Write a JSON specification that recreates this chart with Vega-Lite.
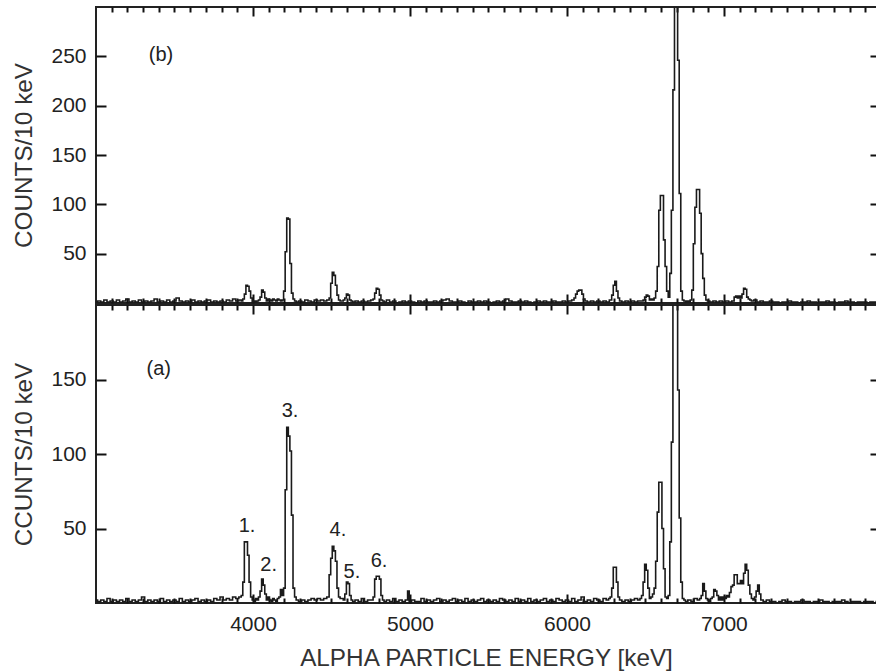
{
"$schema":"https://vega.github.io/schema/vega-lite/v6.json",
"padding":{"left":11,"top":5,"right":0,"bottom":0},
"spacing":-5,
"config":{"view":{"stroke":"#222","strokeWidth":2},
"axis":{"domain":false,"grid":false,"tickColor":"#111","tickWidth":2,"labelFont":"Liberation Sans","labelFontSize":21,"labelColor":"#222","titleFont":"Liberation Sans","titleFontSize":24.3,"titleFontWeight":"normal","titleColor":"#333"}},
"datasets":{
"b":[{"energy":3000,"counts":1},{"energy":3020,"counts":2},{"energy":3040,"counts":1},{"energy":3060,"counts":3},{"energy":3080,"counts":1},{"energy":3100,"counts":2},{"energy":3120,"counts":1},{"energy":3140,"counts":3},{"energy":3160,"counts":1},{"energy":3180,"counts":2},{"energy":3200,"counts":4},{"energy":3220,"counts":1},{"energy":3240,"counts":2},{"energy":3260,"counts":1},{"energy":3280,"counts":3},{"energy":3300,"counts":1},{"energy":3320,"counts":2},{"energy":3340,"counts":1},{"energy":3360,"counts":2},{"energy":3380,"counts":4},{"energy":3400,"counts":1},{"energy":3420,"counts":2},{"energy":3440,"counts":1},{"energy":3460,"counts":3},{"energy":3480,"counts":1},{"energy":3500,"counts":2},{"energy":3520,"counts":5},{"energy":3540,"counts":2},{"energy":3560,"counts":1},{"energy":3580,"counts":2},{"energy":3600,"counts":1},{"energy":3620,"counts":3},{"energy":3640,"counts":1},{"energy":3660,"counts":2},{"energy":3680,"counts":1},{"energy":3700,"counts":2},{"energy":3720,"counts":3},{"energy":3740,"counts":1},{"energy":3760,"counts":2},{"energy":3780,"counts":1},{"energy":3800,"counts":2},{"energy":3820,"counts":1},{"energy":3840,"counts":3},{"energy":3860,"counts":2},{"energy":3880,"counts":4},{"energy":3900,"counts":2},{"energy":3920,"counts":3},{"energy":3930,"counts":2},{"energy":3940,"counts":4},{"energy":3950,"counts":9},{"energy":3960,"counts":18},{"energy":3970,"counts":17},{"energy":3980,"counts":12},{"energy":3990,"counts":5},{"energy":4000,"counts":1},{"energy":4010,"counts":2},{"energy":4020,"counts":1},{"energy":4030,"counts":2},{"energy":4040,"counts":3},{"energy":4050,"counts":6},{"energy":4060,"counts":13},{"energy":4070,"counts":11},{"energy":4080,"counts":5},{"energy":4090,"counts":2},{"energy":4100,"counts":4},{"energy":4110,"counts":3},{"energy":4120,"counts":2},{"energy":4130,"counts":4},{"energy":4140,"counts":3},{"energy":4150,"counts":2},{"energy":4160,"counts":4},{"energy":4170,"counts":3},{"energy":4180,"counts":2},{"energy":4190,"counts":3},{"energy":4200,"counts":12},{"energy":4210,"counts":52},{"energy":4220,"counts":86},{"energy":4230,"counts":85},{"energy":4240,"counts":40},{"energy":4250,"counts":10},{"energy":4260,"counts":4},{"energy":4270,"counts":2},{"energy":4280,"counts":1},{"energy":4300,"counts":2},{"energy":4320,"counts":1},{"energy":4340,"counts":3},{"energy":4360,"counts":2},{"energy":4380,"counts":1},{"energy":4400,"counts":3},{"energy":4420,"counts":2},{"energy":4440,"counts":3},{"energy":4460,"counts":2},{"energy":4480,"counts":3},{"energy":4490,"counts":5},{"energy":4500,"counts":20},{"energy":4510,"counts":31},{"energy":4520,"counts":28},{"energy":4530,"counts":18},{"energy":4540,"counts":8},{"energy":4550,"counts":3},{"energy":4560,"counts":2},{"energy":4570,"counts":2},{"energy":4580,"counts":3},{"energy":4590,"counts":5},{"energy":4600,"counts":9},{"energy":4610,"counts":8},{"energy":4620,"counts":3},{"energy":4630,"counts":2},{"energy":4640,"counts":1},{"energy":4660,"counts":2},{"energy":4680,"counts":1},{"energy":4700,"counts":2},{"energy":4720,"counts":1},{"energy":4740,"counts":2},{"energy":4760,"counts":3},{"energy":4770,"counts":4},{"energy":4780,"counts":10},{"energy":4790,"counts":15},{"energy":4800,"counts":14},{"energy":4810,"counts":8},{"energy":4820,"counts":3},{"energy":4830,"counts":2},{"energy":4840,"counts":1},{"energy":4860,"counts":3},{"energy":4880,"counts":1},{"energy":4900,"counts":2},{"energy":4920,"counts":0},{"energy":4940,"counts":1},{"energy":4960,"counts":2},{"energy":4980,"counts":1},{"energy":5000,"counts":2},{"energy":5020,"counts":1},{"energy":5040,"counts":0},{"energy":5060,"counts":2},{"energy":5080,"counts":1},{"energy":5100,"counts":2},{"energy":5120,"counts":1},{"energy":5140,"counts":1},{"energy":5160,"counts":2},{"energy":5180,"counts":1},{"energy":5200,"counts":2},{"energy":5220,"counts":3},{"energy":5240,"counts":4},{"energy":5260,"counts":2},{"energy":5280,"counts":1},{"energy":5300,"counts":1},{"energy":5320,"counts":2},{"energy":5340,"counts":1},{"energy":5360,"counts":0},{"energy":5380,"counts":2},{"energy":5400,"counts":1},{"energy":5420,"counts":1},{"energy":5440,"counts":2},{"energy":5460,"counts":1},{"energy":5480,"counts":2},{"energy":5500,"counts":1},{"energy":5520,"counts":0},{"energy":5540,"counts":1},{"energy":5560,"counts":2},{"energy":5580,"counts":1},{"energy":5600,"counts":2},{"energy":5620,"counts":4},{"energy":5640,"counts":2},{"energy":5660,"counts":1},{"energy":5680,"counts":1},{"energy":5700,"counts":2},{"energy":5720,"counts":1},{"energy":5740,"counts":2},{"energy":5760,"counts":1},{"energy":5780,"counts":0},{"energy":5800,"counts":1},{"energy":5820,"counts":2},{"energy":5840,"counts":1},{"energy":5860,"counts":2},{"energy":5880,"counts":1},{"energy":5900,"counts":1},{"energy":5920,"counts":2},{"energy":5940,"counts":1},{"energy":5960,"counts":1},{"energy":5980,"counts":2},{"energy":6000,"counts":1},{"energy":6020,"counts":2},{"energy":6040,"counts":3},{"energy":6050,"counts":5},{"energy":6060,"counts":9},{"energy":6070,"counts":12},{"energy":6080,"counts":13},{"energy":6090,"counts":13},{"energy":6100,"counts":9},{"energy":6110,"counts":4},{"energy":6120,"counts":2},{"energy":6140,"counts":1},{"energy":6160,"counts":2},{"energy":6180,"counts":1},{"energy":6200,"counts":2},{"energy":6220,"counts":1},{"energy":6240,"counts":2},{"energy":6260,"counts":1},{"energy":6280,"counts":3},{"energy":6290,"counts":8},{"energy":6300,"counts":18},{"energy":6310,"counts":22},{"energy":6320,"counts":12},{"energy":6330,"counts":5},{"energy":6340,"counts":2},{"energy":6360,"counts":1},{"energy":6380,"counts":2},{"energy":6400,"counts":1},{"energy":6420,"counts":2},{"energy":6440,"counts":1},{"energy":6460,"counts":2},{"energy":6480,"counts":2},{"energy":6490,"counts":3},{"energy":6500,"counts":6},{"energy":6510,"counts":8},{"energy":6520,"counts":7},{"energy":6530,"counts":3},{"energy":6540,"counts":4},{"energy":6550,"counts":3},{"energy":6560,"counts":5},{"energy":6570,"counts":12},{"energy":6580,"counts":37},{"energy":6590,"counts":94},{"energy":6600,"counts":109},{"energy":6610,"counts":109},{"energy":6620,"counts":64},{"energy":6630,"counts":37},{"energy":6640,"counts":12},{"energy":6650,"counts":6},{"energy":6660,"counts":30},{"energy":6670,"counts":94},{"energy":6680,"counts":216},{"energy":6690,"counts":340},{"energy":6700,"counts":340},{"energy":6710,"counts":246},{"energy":6720,"counts":111},{"energy":6730,"counts":12},{"energy":6740,"counts":3},{"energy":6750,"counts":2},{"energy":6760,"counts":1},{"energy":6770,"counts":2},{"energy":6780,"counts":1},{"energy":6790,"counts":3},{"energy":6800,"counts":13},{"energy":6810,"counts":60},{"energy":6820,"counts":97},{"energy":6830,"counts":115},{"energy":6840,"counts":115},{"energy":6850,"counts":91},{"energy":6860,"counts":50},{"energy":6870,"counts":25},{"energy":6880,"counts":8},{"energy":6890,"counts":3},{"energy":6900,"counts":2},{"energy":6920,"counts":1},{"energy":6940,"counts":2},{"energy":6960,"counts":1},{"energy":6980,"counts":2},{"energy":7000,"counts":1},{"energy":7020,"counts":2},{"energy":7040,"counts":1},{"energy":7060,"counts":2},{"energy":7070,"counts":6},{"energy":7080,"counts":7},{"energy":7090,"counts":5},{"energy":7100,"counts":7},{"energy":7110,"counts":5},{"energy":7120,"counts":9},{"energy":7130,"counts":15},{"energy":7140,"counts":14},{"energy":7150,"counts":6},{"energy":7160,"counts":4},{"energy":7170,"counts":3},{"energy":7180,"counts":2},{"energy":7200,"counts":3},{"energy":7220,"counts":1},{"energy":7240,"counts":2},{"energy":7260,"counts":1},{"energy":7280,"counts":1},{"energy":7300,"counts":2},{"energy":7320,"counts":1},{"energy":7340,"counts":1},{"energy":7360,"counts":0},{"energy":7380,"counts":1},{"energy":7400,"counts":1},{"energy":7420,"counts":2},{"energy":7440,"counts":1},{"energy":7460,"counts":1},{"energy":7480,"counts":0},{"energy":7500,"counts":1},{"energy":7520,"counts":1},{"energy":7540,"counts":2},{"energy":7560,"counts":1},{"energy":7580,"counts":1},{"energy":7600,"counts":0},{"energy":7620,"counts":1},{"energy":7640,"counts":1},{"energy":7660,"counts":2},{"energy":7680,"counts":1},{"energy":7700,"counts":1},{"energy":7720,"counts":0},{"energy":7740,"counts":1},{"energy":7760,"counts":1},{"energy":7780,"counts":2},{"energy":7800,"counts":1},{"energy":7820,"counts":1},{"energy":7840,"counts":0},{"energy":7860,"counts":1},{"energy":7880,"counts":1},{"energy":7900,"counts":1},{"energy":7920,"counts":0},{"energy":7940,"counts":1},{"energy":7960,"counts":1},{"energy":7980,"counts":1}],
"a":[{"energy":3000,"counts":2},{"energy":3020,"counts":1},{"energy":3040,"counts":2},{"energy":3060,"counts":1},{"energy":3080,"counts":3},{"energy":3100,"counts":1},{"energy":3120,"counts":2},{"energy":3140,"counts":1},{"energy":3160,"counts":2},{"energy":3180,"counts":1},{"energy":3200,"counts":3},{"energy":3220,"counts":1},{"energy":3240,"counts":2},{"energy":3260,"counts":1},{"energy":3280,"counts":2},{"energy":3300,"counts":4},{"energy":3320,"counts":1},{"energy":3340,"counts":2},{"energy":3360,"counts":1},{"energy":3380,"counts":2},{"energy":3400,"counts":1},{"energy":3420,"counts":3},{"energy":3440,"counts":1},{"energy":3460,"counts":2},{"energy":3480,"counts":1},{"energy":3500,"counts":2},{"energy":3520,"counts":1},{"energy":3540,"counts":3},{"energy":3560,"counts":1},{"energy":3580,"counts":2},{"energy":3600,"counts":1},{"energy":3620,"counts":2},{"energy":3640,"counts":3},{"energy":3660,"counts":1},{"energy":3680,"counts":2},{"energy":3700,"counts":1},{"energy":3720,"counts":2},{"energy":3740,"counts":1},{"energy":3760,"counts":3},{"energy":3780,"counts":2},{"energy":3800,"counts":4},{"energy":3820,"counts":2},{"energy":3840,"counts":3},{"energy":3860,"counts":2},{"energy":3880,"counts":4},{"energy":3900,"counts":3},{"energy":3920,"counts":4},{"energy":3930,"counts":5},{"energy":3940,"counts":14},{"energy":3950,"counts":41},{"energy":3960,"counts":41},{"energy":3970,"counts":32},{"energy":3980,"counts":14},{"energy":3990,"counts":4},{"energy":4000,"counts":2},{"energy":4010,"counts":1},{"energy":4020,"counts":3},{"energy":4030,"counts":2},{"energy":4040,"counts":4},{"energy":4050,"counts":8},{"energy":4060,"counts":16},{"energy":4070,"counts":12},{"energy":4080,"counts":6},{"energy":4090,"counts":2},{"energy":4100,"counts":4},{"energy":4110,"counts":2},{"energy":4120,"counts":1},{"energy":4130,"counts":3},{"energy":4140,"counts":2},{"energy":4150,"counts":1},{"energy":4160,"counts":3},{"energy":4170,"counts":4},{"energy":4180,"counts":9},{"energy":4190,"counts":5},{"energy":4200,"counts":10},{"energy":4210,"counts":76},{"energy":4220,"counts":118},{"energy":4230,"counts":112},{"energy":4240,"counts":102},{"energy":4250,"counts":59},{"energy":4260,"counts":10},{"energy":4270,"counts":4},{"energy":4280,"counts":2},{"energy":4300,"counts":1},{"energy":4320,"counts":2},{"energy":4340,"counts":1},{"energy":4360,"counts":2},{"energy":4380,"counts":3},{"energy":4400,"counts":2},{"energy":4420,"counts":3},{"energy":4440,"counts":2},{"energy":4460,"counts":3},{"energy":4480,"counts":4},{"energy":4490,"counts":19},{"energy":4500,"counts":30},{"energy":4510,"counts":38},{"energy":4520,"counts":35},{"energy":4530,"counts":28},{"energy":4540,"counts":10},{"energy":4550,"counts":4},{"energy":4560,"counts":3},{"energy":4570,"counts":3},{"energy":4580,"counts":2},{"energy":4590,"counts":6},{"energy":4600,"counts":14},{"energy":4610,"counts":13},{"energy":4620,"counts":5},{"energy":4630,"counts":2},{"energy":4640,"counts":1},{"energy":4660,"counts":2},{"energy":4680,"counts":1},{"energy":4700,"counts":3},{"energy":4720,"counts":1},{"energy":4740,"counts":2},{"energy":4760,"counts":2},{"energy":4770,"counts":4},{"energy":4780,"counts":16},{"energy":4790,"counts":18},{"energy":4800,"counts":18},{"energy":4810,"counts":16},{"energy":4820,"counts":5},{"energy":4830,"counts":2},{"energy":4840,"counts":1},{"energy":4860,"counts":2},{"energy":4880,"counts":1},{"energy":4900,"counts":3},{"energy":4920,"counts":1},{"energy":4940,"counts":2},{"energy":4960,"counts":1},{"energy":4980,"counts":2},{"energy":4990,"counts":8},{"energy":5000,"counts":1},{"energy":5020,"counts":2},{"energy":5040,"counts":1},{"energy":5060,"counts":1},{"energy":5080,"counts":3},{"energy":5100,"counts":1},{"energy":5120,"counts":2},{"energy":5140,"counts":1},{"energy":5160,"counts":2},{"energy":5180,"counts":3},{"energy":5200,"counts":1},{"energy":5220,"counts":2},{"energy":5240,"counts":1},{"energy":5260,"counts":2},{"energy":5280,"counts":3},{"energy":5300,"counts":1},{"energy":5320,"counts":2},{"energy":5340,"counts":1},{"energy":5360,"counts":3},{"energy":5380,"counts":1},{"energy":5400,"counts":2},{"energy":5420,"counts":1},{"energy":5440,"counts":2},{"energy":5460,"counts":3},{"energy":5480,"counts":1},{"energy":5500,"counts":2},{"energy":5520,"counts":1},{"energy":5540,"counts":2},{"energy":5560,"counts":1},{"energy":5580,"counts":3},{"energy":5600,"counts":2},{"energy":5620,"counts":1},{"energy":5640,"counts":2},{"energy":5660,"counts":1},{"energy":5680,"counts":3},{"energy":5700,"counts":1},{"energy":5720,"counts":2},{"energy":5740,"counts":1},{"energy":5760,"counts":3},{"energy":5780,"counts":1},{"energy":5800,"counts":2},{"energy":5820,"counts":1},{"energy":5840,"counts":2},{"energy":5860,"counts":3},{"energy":5880,"counts":1},{"energy":5900,"counts":2},{"energy":5920,"counts":1},{"energy":5940,"counts":3},{"energy":5960,"counts":2},{"energy":5980,"counts":1},{"energy":6000,"counts":2},{"energy":6020,"counts":1},{"energy":6040,"counts":3},{"energy":6060,"counts":1},{"energy":6080,"counts":2},{"energy":6100,"counts":4},{"energy":6120,"counts":1},{"energy":6140,"counts":2},{"energy":6160,"counts":1},{"energy":6180,"counts":3},{"energy":6200,"counts":2},{"energy":6220,"counts":1},{"energy":6240,"counts":3},{"energy":6260,"counts":2},{"energy":6270,"counts":3},{"energy":6280,"counts":4},{"energy":6290,"counts":10},{"energy":6300,"counts":24},{"energy":6310,"counts":24},{"energy":6320,"counts":14},{"energy":6330,"counts":4},{"energy":6340,"counts":2},{"energy":6360,"counts":1},{"energy":6380,"counts":2},{"energy":6400,"counts":1},{"energy":6420,"counts":2},{"energy":6440,"counts":3},{"energy":6460,"counts":2},{"energy":6470,"counts":3},{"energy":6480,"counts":5},{"energy":6490,"counts":14},{"energy":6500,"counts":26},{"energy":6510,"counts":22},{"energy":6520,"counts":10},{"energy":6530,"counts":3},{"energy":6540,"counts":4},{"energy":6550,"counts":6},{"energy":6560,"counts":10},{"energy":6570,"counts":28},{"energy":6580,"counts":61},{"energy":6590,"counts":81},{"energy":6600,"counts":81},{"energy":6610,"counts":50},{"energy":6620,"counts":23},{"energy":6630,"counts":4},{"energy":6640,"counts":3},{"energy":6650,"counts":5},{"energy":6660,"counts":41},{"energy":6670,"counts":108},{"energy":6680,"counts":250},{"energy":6690,"counts":250},{"energy":6700,"counts":250},{"energy":6710,"counts":143},{"energy":6720,"counts":57},{"energy":6730,"counts":14},{"energy":6740,"counts":3},{"energy":6750,"counts":2},{"energy":6760,"counts":1},{"energy":6780,"counts":2},{"energy":6800,"counts":1},{"energy":6820,"counts":3},{"energy":6840,"counts":2},{"energy":6850,"counts":3},{"energy":6860,"counts":5},{"energy":6870,"counts":13},{"energy":6880,"counts":8},{"energy":6890,"counts":3},{"energy":6900,"counts":2},{"energy":6910,"counts":1},{"energy":6920,"counts":3},{"energy":6930,"counts":4},{"energy":6940,"counts":9},{"energy":6950,"counts":8},{"energy":6960,"counts":5},{"energy":6970,"counts":2},{"energy":6980,"counts":4},{"energy":6990,"counts":2},{"energy":7000,"counts":4},{"energy":7010,"counts":3},{"energy":7020,"counts":5},{"energy":7030,"counts":4},{"energy":7040,"counts":7},{"energy":7050,"counts":11},{"energy":7060,"counts":12},{"energy":7070,"counts":19},{"energy":7080,"counts":19},{"energy":7090,"counts":13},{"energy":7100,"counts":13},{"energy":7110,"counts":15},{"energy":7120,"counts":13},{"energy":7130,"counts":20},{"energy":7140,"counts":26},{"energy":7150,"counts":22},{"energy":7160,"counts":12},{"energy":7170,"counts":6},{"energy":7180,"counts":3},{"energy":7190,"counts":2},{"energy":7200,"counts":4},{"energy":7210,"counts":8},{"energy":7220,"counts":12},{"energy":7230,"counts":6},{"energy":7240,"counts":2},{"energy":7260,"counts":1},{"energy":7280,"counts":2},{"energy":7300,"counts":1},{"energy":7320,"counts":1},{"energy":7340,"counts":0},{"energy":7360,"counts":1},{"energy":7380,"counts":2},{"energy":7400,"counts":1},{"energy":7420,"counts":1},{"energy":7440,"counts":0},{"energy":7460,"counts":1},{"energy":7480,"counts":1},{"energy":7500,"counts":2},{"energy":7520,"counts":1},{"energy":7540,"counts":1},{"energy":7560,"counts":0},{"energy":7580,"counts":1},{"energy":7600,"counts":1},{"energy":7620,"counts":2},{"energy":7640,"counts":1},{"energy":7660,"counts":1},{"energy":7680,"counts":0},{"energy":7700,"counts":1},{"energy":7720,"counts":1},{"energy":7740,"counts":1},{"energy":7760,"counts":2},{"energy":7780,"counts":1},{"energy":7800,"counts":0},{"energy":7820,"counts":1},{"energy":7840,"counts":1},{"energy":7860,"counts":1},{"energy":7880,"counts":0},{"energy":7900,"counts":1},{"energy":7920,"counts":1},{"energy":7940,"counts":1},{"energy":7960,"counts":0},{"energy":7980,"counts":1}],
"annb":[{"energy":3414,"counts":251,"label":"(b)"}],
"anna":[{"energy":3400,"counts":157,"label":"(a)"},{"energy":3962,"counts":52,"label":"1."},{"energy":4100,"counts":25.5,"label":"2."},{"energy":4236,"counts":129,"label":"3."},{"energy":4541,"counts":49,"label":"4."},{"energy":4630,"counts":20.5,"label":"5."},{"energy":4803,"counts":28,"label":"6."}]
},
"vconcat":[
{"width":781,"height":296,
 "resolve":{"axis":{"x":"independent","y":"independent"}},
 "layer":[
  {"data":{"name":"b"},"mark":{"type":"line","interpolate":"step","clip":true,"color":"#1a1a1a","strokeWidth":1.6},
   "encoding":{"x":{"field":"energy","type":"quantitative","scale":{"domain":[3000,7975],"nice":false,"zero":false},"axis":{"orient":"bottom","values":[4000,5000,6000,7000],"ticks":true,"tickSize":-9,"tickWidth":2,"tickColor":"#111","labels":false,"title":null}},
   "y":{"field":"counts","type":"quantitative","scale":{"domain":[0,300],"nice":false},"axis":{"orient":"left","values":[50,100,150,200,250],"ticks":false,"labelPadding":10,"title":"COUNTS/10 keV","titleX":-72,"titleY":148,"titleAngle":-90,"titleBaseline":"middle","titleAlign":"center"}}}},
  {"data":{"name":"annb"},"mark":{"type":"text","font":"Liberation Sans","fontSize":20,"color":"#222","align":"center","baseline":"middle"},
   "encoding":{"x":{"field":"energy","type":"quantitative","scale":{"domain":[3000,7975],"nice":false,"zero":false},"axis":{"orient":"top","values":[4000,5000,6000,7000],"ticks":true,"tickSize":-9,"tickWidth":2,"tickColor":"#111","labels":false,"title":null}},
   "y":{"field":"counts","type":"quantitative","scale":{"domain":[0,300],"nice":false},"axis":{"orient":"left","values":[50,100,150,200,250],"ticks":true,"tickSize":-10,"tickWidth":2,"tickColor":"#111","labels":false,"title":null}},
   "text":{"field":"label"}}},
  {"data":{"name":"annb"},"mark":{"type":"point","opacity":0},
   "encoding":{"x":{"field":"energy","type":"quantitative","scale":{"domain":[3000,7975],"nice":false,"zero":false},"axis":{"orient":"bottom","values":[3100,3200,3300,3400,3500,3600,3700,3800,3900,4100,4200,4300,4400,4500,4600,4700,4800,4900,5100,5200,5300,5400,5500,5600,5700,5800,5900,6100,6200,6300,6400,6500,6600,6700,6800,6900,7100,7200,7300,7400,7500,7600,7700,7800,7900],"ticks":true,"tickSize":-5,"tickWidth":2,"tickColor":"#111","labels":false,"title":null}},
   "y":{"field":"counts","type":"quantitative","scale":{"domain":[0,300],"nice":false},"axis":{"orient":"right","values":[50,100,150,200,250],"ticks":true,"tickSize":-7,"tickWidth":2,"tickColor":"#111","labels":false,"title":null}}}},
  {"data":{"name":"annb"},"mark":{"type":"point","opacity":0},
   "encoding":{"x":{"field":"energy","type":"quantitative","scale":{"domain":[3000,7975],"nice":false,"zero":false},"axis":{"orient":"top","values":[3100,3200,3300,3400,3500,3600,3700,3800,3900,4100,4200,4300,4400,4500,4600,4700,4800,4900,5100,5200,5300,5400,5500,5600,5700,5800,5900,6100,6200,6300,6400,6500,6600,6700,6800,6900,7100,7200,7300,7400,7500,7600,7700,7800,7900],"ticks":true,"tickSize":-5,"tickWidth":2,"tickColor":"#111","labels":false,"title":null}},
   "y":{"field":"counts","type":"quantitative","scale":{"domain":[0,300],"nice":false},"axis":null}}}
 ]},
{"width":781,"height":298,
 "resolve":{"axis":{"x":"independent","y":"independent"}},
 "layer":[
  {"data":{"name":"a"},"mark":{"type":"line","interpolate":"step","clip":true,"color":"#1a1a1a","strokeWidth":1.6},
   "encoding":{"x":{"field":"energy","type":"quantitative","scale":{"domain":[3000,7975],"nice":false,"zero":false},"axis":{"orient":"bottom","values":[4000,5000,6000,7000],"format":"d","ticks":false,"labelPadding":10,"title":"ALPHA PARTICLE ENERGY [keV]","titleX":390,"titleY":55,"titleBaseline":"middle","titleAlign":"center"}},
   "y":{"field":"counts","type":"quantitative","scale":{"domain":[0,200],"nice":false},"axis":{"orient":"left","values":[50,100,150],"ticks":false,"labelPadding":10,"title":"CCUNTS/10 keV","titleX":-72,"titleY":149,"titleAngle":-90,"titleBaseline":"middle","titleAlign":"center"}}}},
  {"data":{"name":"anna"},"mark":{"type":"text","font":"Liberation Sans","fontSize":20,"color":"#222","align":"center","baseline":"middle"},
   "encoding":{"x":{"field":"energy","type":"quantitative","scale":{"domain":[3000,7975],"nice":false,"zero":false},"axis":{"orient":"top","values":[4000,5000,6000,7000],"ticks":true,"tickSize":-9,"tickWidth":2,"tickColor":"#111","labels":false,"title":null}},
   "y":{"field":"counts","type":"quantitative","scale":{"domain":[0,200],"nice":false},"axis":{"orient":"left","values":[50,100,150],"ticks":true,"tickSize":-10,"tickWidth":2,"tickColor":"#111","labels":false,"title":null}},
   "text":{"field":"label"}}},
  {"data":{"name":"anna"},"mark":{"type":"point","opacity":0},
   "encoding":{"x":{"field":"energy","type":"quantitative","scale":{"domain":[3000,7975],"nice":false,"zero":false},"axis":{"orient":"bottom","values":[3100,3200,3300,3400,3500,3600,3700,3800,3900,4100,4200,4300,4400,4500,4600,4700,4800,4900,5100,5200,5300,5400,5500,5600,5700,5800,5900,6100,6200,6300,6400,6500,6600,6700,6800,6900,7100,7200,7300,7400,7500,7600,7700,7800,7900],"ticks":true,"tickSize":-5,"tickWidth":2,"tickColor":"#111","labels":false,"title":null}},
   "y":{"field":"counts","type":"quantitative","scale":{"domain":[0,200],"nice":false},"axis":{"orient":"right","values":[50,100,150],"ticks":true,"tickSize":-7,"tickWidth":2,"tickColor":"#111","labels":false,"title":null}}}},
  {"data":{"name":"anna"},"mark":{"type":"point","opacity":0},
   "encoding":{"x":{"field":"energy","type":"quantitative","scale":{"domain":[3000,7975],"nice":false,"zero":false},"axis":{"orient":"top","values":[3100,3200,3300,3400,3500,3600,3700,3800,3900,4100,4200,4300,4400,4500,4600,4700,4800,4900,5100,5200,5300,5400,5500,5600,5700,5800,5900,6100,6200,6300,6400,6500,6600,6700,6800,6900,7100,7200,7300,7400,7500,7600,7700,7800,7900],"ticks":true,"tickSize":-5,"tickWidth":2,"tickColor":"#111","labels":false,"title":null}},
   "y":{"field":"counts","type":"quantitative","scale":{"domain":[0,200],"nice":false},"axis":null}}},
  {"data":{"name":"anna"},"mark":{"type":"point","opacity":0},
   "encoding":{"x":{"field":"energy","type":"quantitative","scale":{"domain":[3000,7975],"nice":false,"zero":false},"axis":{"orient":"bottom","values":[4000,5000,6000,7000],"ticks":true,"tickSize":-9,"tickWidth":2,"tickColor":"#111","labels":false,"title":null}},
   "y":{"field":"counts","type":"quantitative","scale":{"domain":[0,200],"nice":false},"axis":null}}}
 ]}
]
}
